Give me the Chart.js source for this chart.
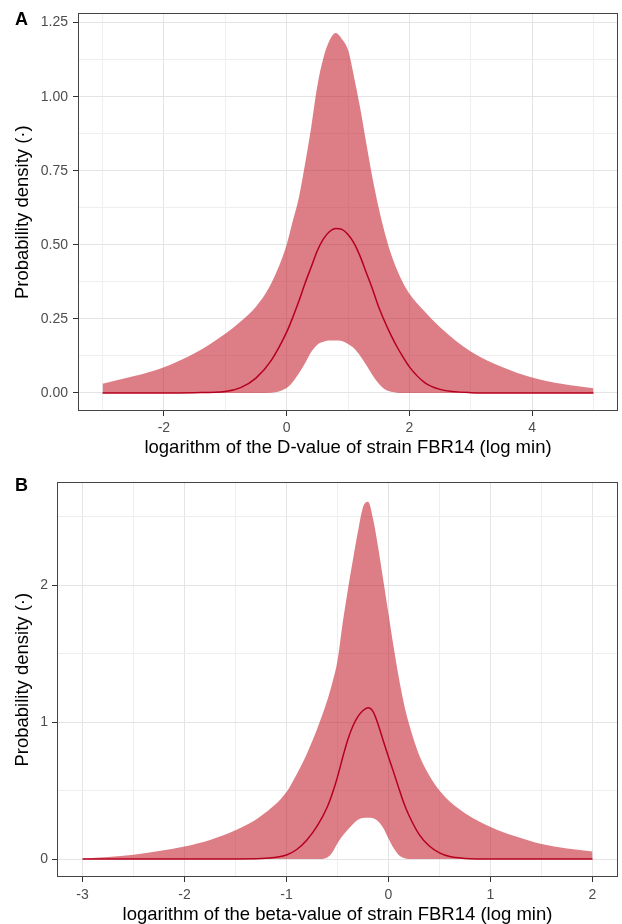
<!DOCTYPE html>
<html><head><meta charset="utf-8">
<script src="https://cdn.jsdelivr.net/npm/chart.js@4.4.1/dist/chart.umd.min.js"></script>
<style>
html,body{margin:0;padding:0;background:#fff;}
#wrap{position:relative;width:622px;height:924px;overflow:hidden;}
canvas{position:absolute;left:0;}
.tag{position:absolute;left:15px;font:bold 18px "Liberation Sans",Arial,sans-serif;line-height:18px;color:#000;}
</style></head><body>
<div id="wrap">
<canvas id="cA" width="622" height="470" style="top:0"></canvas>
<canvas id="cB" width="622" height="454" style="top:470px"></canvas>
<div class="tag" style="top:10px">A</div>
<div class="tag" style="top:476px">B</div>
</div>
<script>
// ---------- Panel A data ----------
const xsA = [-3,-2.5,-2,-1.5,-1,-0.75,-0.5,-0.25,0,0.1,0.2,0.3,0.4,0.5,0.6,0.7,0.8,0.9,1.0,1.1,1.2,1.3,1.4,1.5,1.6,1.7,1.8,1.9,2.0,2.25,2.5,3,3.5,4,4.5,5];
const upperA = [0.031,0.056,0.087,0.134,0.200,0.241,0.291,0.370,0.500,0.580,0.660,0.773,0.896,1.036,1.131,1.190,1.215,1.195,1.158,1.065,0.960,0.840,0.725,0.625,0.540,0.470,0.415,0.370,0.335,0.275,0.222,0.140,0.088,0.052,0.030,0.016];
const meanA  = [0,0,0,0.001,0.005,0.018,0.050,0.110,0.205,0.255,0.310,0.370,0.425,0.480,0.520,0.545,0.555,0.552,0.535,0.505,0.460,0.405,0.350,0.290,0.240,0.195,0.155,0.120,0.088,0.035,0.012,0.001,0,0,0,0];
const lowerA = [0,0,0,0,0,0,0,0.001,0.017,0.037,0.066,0.100,0.138,0.163,0.173,0.177,0.177,0.175,0.165,0.150,0.125,0.093,0.060,0.032,0.012,0.004,0.001,0,0,0,0,0,0,0,0,0];
const xMajorA = [-2,0,2,4];
const xLabelsA = ['-2','0','2','4'];
const xMinorA = [-3,-1,1,3,5];
const yMajorA = [0,0.25,0.5,0.75,1.0,1.25];
const yLabelsA = ['0.00','0.25','0.50','0.75','1.00','1.25'];
const yMinorA = [0.125,0.375,0.625,0.875,1.125];

// ---------- Panel B data ----------
const xsB = [-3,-2.75,-2.5,-2.25,-2,-1.75,-1.5,-1.25,-1,-0.9,-0.8,-0.7,-0.6,-0.55,-0.5,-0.45,-0.4,-0.35,-0.3,-0.25,-0.2,-0.15,-0.1,-0.05,0,0.05,0.1,0.15,0.2,0.3,0.4,0.5,0.6,0.75,1,1.25,1.5,1.75,2];
const upperB = [0.003,0.015,0.031,0.058,0.092,0.140,0.210,0.315,0.490,0.620,0.770,0.950,1.160,1.290,1.450,1.720,1.960,2.180,2.390,2.570,2.610,2.480,2.270,2.030,1.790,1.550,1.330,1.140,0.990,0.760,0.610,0.500,0.420,0.335,0.235,0.165,0.110,0.078,0.056];
const meanB  = [0,0,0,0,0,0,0.001,0.004,0.030,0.070,0.140,0.240,0.380,0.480,0.600,0.740,0.870,0.970,1.040,1.085,1.105,1.075,0.980,0.860,0.745,0.635,0.520,0.410,0.320,0.180,0.095,0.045,0.018,0.005,0,0,0,0,0];
const lowerB = [0,0,0,0,0,0,0,0,0,0,0,0,0.012,0.050,0.115,0.170,0.215,0.255,0.287,0.300,0.302,0.298,0.275,0.225,0.150,0.080,0.030,0.008,0,0,0,0,0,0,0,0,0,0,0];
const xMajorB = [-3,-2,-1,0,1,2];
const xLabelsB = ['-3','-2','-1','0','1','2'];
const xMinorB = [-2.5,-1.5,-0.5,0.5,1.5];
const yMajorB = [0,1,2];
const yLabelsB = ['0','1','2'];
const yMinorB = [0.5,1.5,2.5];

const FAMILY = '"Liberation Sans", Arial, Helvetica, sans-serif';
const FILL = 'rgba(195,24,38,0.56)';
const LINE = '#b5001e';

const borderPlugin = {
  id: 'panelBorder',
  afterDraw(chart) {
    const a = chart.chartArea, c = chart.ctx;
    c.save();
    c.strokeStyle = '#444444';
    c.lineWidth = 1;
    c.strokeRect(Math.round(a.left) + 0.5, Math.round(a.top) + 0.5, Math.round(a.right - a.left) - 1, Math.round(a.bottom - a.top) - 1);
    c.restore();
  }
};

function isIn(arr, v) { return arr.some(m => Math.abs(m - v) < 1e-9); }

function axis(major, labels, minor, min, max, title, size, pad, tpad) {
  const all = major.concat(minor).sort((a, b) => a - b);
  return {
    type: 'linear', min: min, max: max,
    afterBuildTicks: s => { s.ticks = all.map(v => ({ value: v })); },
    afterFit: s => { if (s.isHorizontal()) s.height = size; else s.width = size; },
    ticks: {
      autoSkip: false, maxRotation: 0, minRotation: 0,
      color: '#4d4d4d', font: { family: FAMILY, size: 14 }, padding: pad,
      callback: v => { const i = major.findIndex(m => Math.abs(m - v) < 1e-9); return i >= 0 ? labels[i] : ''; }
    },
    grid: {
      drawTicks: true, tickLength: 5,
      color: ctx => (ctx.tick && isIn(major, ctx.tick.value)) ? '#e4e4e4' : '#eeeeee',
      lineWidth: 1,
      tickColor: ctx => (ctx.tick && isIn(major, ctx.tick.value)) ? '#333333' : 'rgba(0,0,0,0)',
      tickWidth: 1
    },
    border: { display: false },
    title: { display: true, text: title, color: '#000', font: { family: FAMILY, size: 18.5, lineHeight: 1 }, padding: tpad }
  };
}

function build(id, xs, up, lo, me, xa, ya, padding) {
  const pts = arr => xs.map((x, i) => ({ x: x, y: arr[i] }));
  return new Chart(document.getElementById(id), {
    type: 'line',
    data: {
      datasets: [
        { label: 'mean', data: pts(me), borderColor: LINE, borderWidth: 1.5, pointRadius: 0, fill: false, cubicInterpolationMode: 'monotone' },
        { label: 'upper', data: pts(up), borderWidth: 0, borderColor: 'rgba(0,0,0,0)', backgroundColor: FILL, pointRadius: 0, fill: '+1', cubicInterpolationMode: 'monotone' },
        { label: 'lower', data: pts(lo), borderWidth: 0, borderColor: 'rgba(0,0,0,0)', pointRadius: 0, fill: false, cubicInterpolationMode: 'monotone' }
      ]
    },
    options: {
      responsive: false, animation: false, devicePixelRatio: 1,
      layout: { padding: padding },
      plugins: { legend: { display: false }, tooltip: { enabled: false } },
      scales: { x: xa, y: ya }
    },
    plugins: [borderPlugin]
  });
}

build('cA', xsA, upperA, lowerA, meanA,
  axis(xMajorA, xLabelsA, xMinorA, -3.4, 5.4, 'logarithm of the D-value of strain FBR14 (log min)', 59, 4, { top: 0, bottom: 13 }),
  axis(yMajorA, yLabelsA, yMinorA, -0.061, 1.281, 'Probability density (·)', 78, 5, { top: 14, bottom: 0 }),
  { left: 0, top: 13, right: 4, bottom: 0 });

build('cB', xsB, upperB, lowerB, meanB,
  axis(xMajorB, xLabelsB, xMinorB, -3.25, 2.25, 'logarithm of the beta-value of strain FBR14 (log min)', 47, 5, { top: 0, bottom: 0 }),
  axis(yMajorB, yLabelsB, yMinorB, -0.131, 2.751, 'Probability density (·)', 57, 4, { top: 14, bottom: 0 }),
  { left: 0, top: 8, right: 4, bottom: 0 });
</script>
</body></html>
